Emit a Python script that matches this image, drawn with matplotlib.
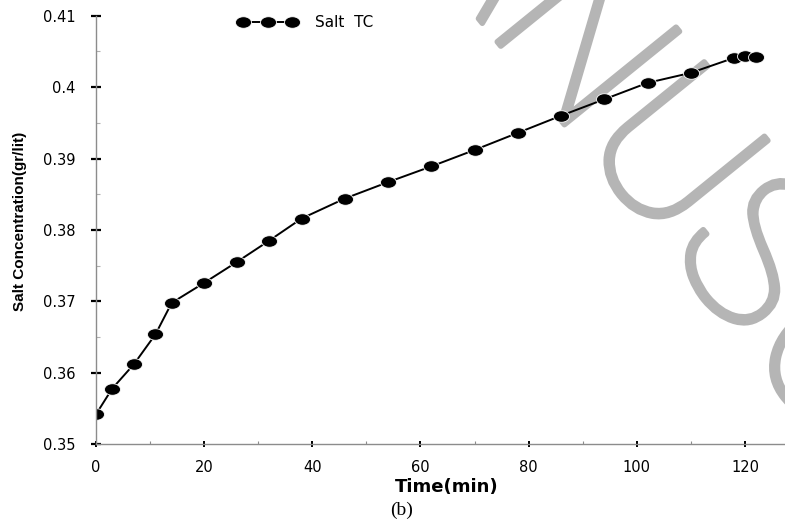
import numpy as np
import matplotlib
matplotlib.use("Agg")
import matplotlib.pyplot as plt
import matplotlib.patheffects as pe
from matplotlib.path import Path
from matplotlib.ticker import MultipleLocator

# Salt concentration vs time
time_min = [0, 3, 7, 11, 14, 20, 26, 32, 38, 46, 54, 62, 70, 78, 86, 94, 102, 110, 118, 120, 122]
salt_conc = [0.3542, 0.3578, 0.3612, 0.3654, 0.3698, 0.3726, 0.3755, 0.3785, 0.3816, 0.3844,
             0.3867, 0.3889, 0.3912, 0.3936, 0.3960, 0.3983, 0.4006, 0.4020, 0.4041, 0.4043, 0.4042]

x_ticks = [0, 20, 40, 60, 80, 100, 120]
y_ticks = [0.35, 0.36, 0.37, 0.38, 0.39, 0.40, 0.41]
y_tick_labels = ["0.35", "0.36", "0.37", "0.38", "0.39", "0.4", "0.41"]

# flattened ellipse marker
theta = np.linspace(0, 2 * np.pi, 60)
ellipse = Path(np.column_stack([np.cos(theta), 0.72 * np.sin(theta)]), closed=True)

fig = plt.figure(figsize=(7.85, 5.23), dpi=100)

# gray watermark behind the plot
wm_gray = "#b5b5b5"
fig.text(0.3742, 1.4007, "MANUSCRIPT", rotation=-51, rotation_mode="anchor",
         ha="left", va="baseline", fontsize=150, family="Roboto", fontweight="light",
         color=wm_gray, zorder=-1,
         path_effects=[pe.withStroke(linewidth=4, foreground=wm_gray)])

ax = fig.add_axes([0.1223, 0.1505, 0.8777, 0.8195])
ax.patch.set_alpha(0)

ax.plot(time_min, salt_conc, color="black", lw=1.4, marker=ellipse, markersize=11.5,
        markerfacecolor="black", markeredgecolor="white", markeredgewidth=0.6,
        label="Salt  TC")

ax.set_xlim(0, 127.4)
ax.set_ylim(0.35, 0.41)
ax.set_xticks(x_ticks)
ax.set_yticks(y_ticks)
ax.set_yticklabels(y_tick_labels)
ax.xaxis.set_minor_locator(MultipleLocator(10))
ax.yaxis.set_minor_locator(MultipleLocator(0.005))

for side in ["top", "right"]:
    ax.spines[side].set_visible(False)
for side in ["left", "bottom"]:
    ax.spines[side].set_color("#8c8c8c")
    ax.spines[side].set_linewidth(1.0)

ax.tick_params(axis="x", which="major", direction="inout", length=4.5, width=1.4,
               color="black", pad=9, labelsize=10.5)
ax.tick_params(axis="y", which="major", direction="inout", length=7.2, width=1.6,
               color="black", pad=11, labelsize=10.5)
ax.tick_params(axis="x", which="minor", direction="in", length=2, width=0.8, color="#8c8c8c")
ax.tick_params(axis="y", which="minor", direction="in", length=3, width=0.8, color="#b0b0b0")

ax.set_xlabel("Time(min)", fontsize=13, fontweight="bold")
ax.xaxis.set_label_coords(0.509, -0.079)
fig.text(0.0255, 0.577, "Salt Concentration(gr/lit)", rotation=90, ha="center", va="center",
         fontsize=11, fontweight="bold", family=["Liberation Sans", "DejaVu Sans"])
fig.text(0.511, 0.025, "(b)", ha="center", va="center", fontsize=14, family="Liberation Serif")

ax.legend(loc="center left", bbox_to_anchor=(0.304, 0.957), bbox_transform=fig.transFigure,
          frameon=False, numpoints=3, handlelength=3.8, handletextpad=1.2,
          borderpad=0, borderaxespad=0, fontsize=11)

fig.savefig("out.png", dpi=100)
